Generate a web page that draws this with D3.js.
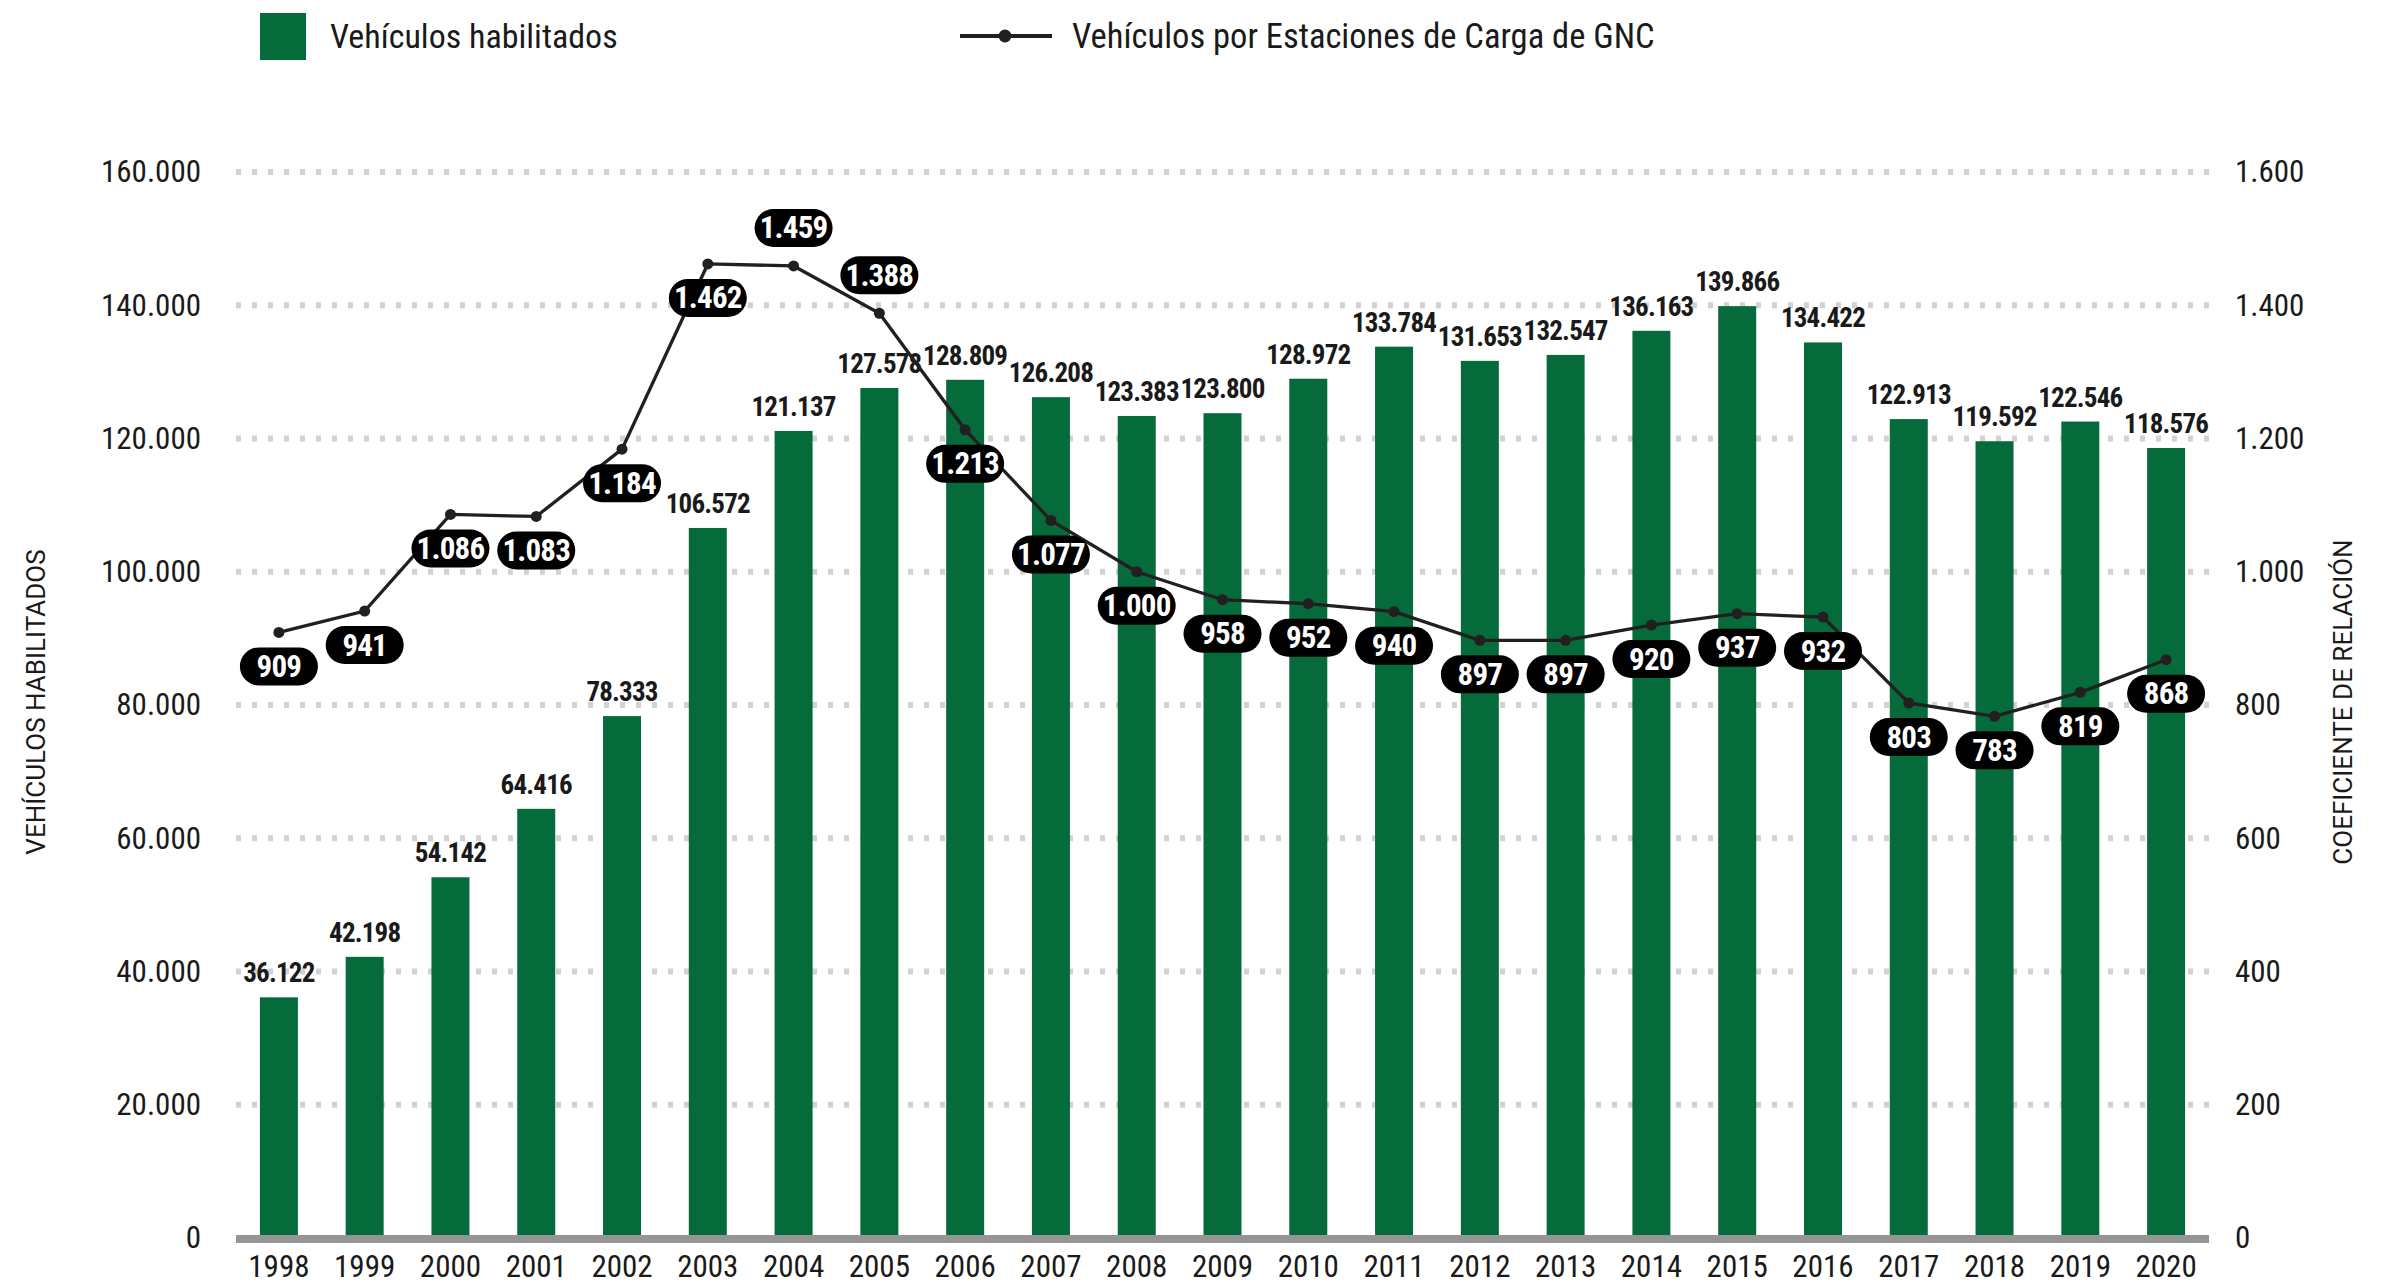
<!DOCTYPE html>
<html>
<head>
<meta charset="utf-8">
<script src="https://cdn.jsdelivr.net/npm/d3@7"></script>
<style>
  body { margin: 0; background: #fff; }
  svg { display: block; }
</style>
</head>
<body>
<div id="chart"></div>
<script>
// data
var years = ["1998", "1999", "2000", "2001", "2002", "2003", "2004", "2005", "2006", "2007", "2008", "2009",
  "2010", "2011", "2012", "2013", "2014", "2015", "2016", "2017", "2018", "2019", "2020"];
var vehiculos = [36122, 42198, 54142, 64416, 78333, 106572, 121137, 127578, 128809, 126208, 123383, 123800,
  128972, 133784, 131653, 132547, 136163, 139866, 134422, 122913, 119592, 122546, 118576];
var coeficiente = [909, 941, 1086, 1083, 1184, 1462, 1459, 1388, 1213, 1077, 1000, 958,
  952, 940, 897, 897, 920, 937, 932, 803, 783, 819, 868];
var leftTicks = [0, 20000, 40000, 60000, 80000, 100000, 120000, 140000, 160000];
var rightTicks = [0, 200, 400, 600, 800, 1000, 1200, 1400, 1600];
var legendLabels = ["Vehículos habilitados", "Vehículos por Estaciones de Carga de GNC"];
var axisTitles = ["VEHÍCULOS HABILITADOS", "COEFICIENTE DE RELACIÓN"];
var pillAbove = ["2004", "2005"];

var W = 2392, H = 1285;
var GREEN = "#066b3b", INK = "#231f20", TEXT = "#1a1a1a";
var FONT_C = "'Roboto Condensed','Liberation Sans Narrow','Arial Narrow','DejaVu Sans Condensed',sans-serif";
var FONT_R = "Roboto, 'Noto Sans', sans-serif";

var es = d3.formatLocale({ decimal: ",", thousands: ".", grouping: [3], currency: ["$", ""] });
var fmt = es.format(",d");

var svg = d3.select("#chart").append("svg")
  .attr("width", W)
  .attr("height", H)
  .style("font-family", FONT_C);

var x = d3.scaleBand()
  .domain(years)
  .range([236, 2209])
  .paddingInner(0.557)
  .paddingOuter(0.2785);

var yL = d3.scaleLinear().domain([0, 160000]).range([1238, 172]);
var yR = d3.scaleLinear().domain([0, 1600]).range([1238, 172]);

var cx = function(d, i) { return x(years[i]) + x.bandwidth() / 2; };

// gridlines
svg.append("g")
  .selectAll("line")
  .data(leftTicks.filter(function(t) { return t > 0; }))
  .enter()
  .append("line")
  .attr("x1", 236)
  .attr("x2", 2209)
  .attr("y1", function(d) { return yL(d); })
  .attr("y2", function(d) { return yL(d); })
  .attr("stroke", "#d2d2d2")
  .attr("stroke-width", 6)
  .attr("stroke-dasharray", "5,11");

// bars
svg.append("g")
  .selectAll("rect")
  .data(vehiculos)
  .enter()
  .append("rect")
  .attr("x", function(d, i) { return x(years[i]); })
  .attr("y", function(d) { return yL(d); })
  .attr("width", x.bandwidth())
  .attr("height", function(d) { return yL(0) - yL(d); })
  .attr("fill", GREEN);

// baseline
svg.append("line")
  .attr("x1", 236)
  .attr("x2", 2209)
  .attr("y1", 1239)
  .attr("y2", 1239)
  .attr("stroke", "#959595")
  .attr("stroke-width", 8);

// left axis
var axL = svg.append("g")
  .attr("transform", "translate(201,0)")
  .call(d3.axisLeft(yL).tickValues(leftTicks).tickFormat(fmt).tickSize(0).tickPadding(0));
axL.select(".domain").remove();
axL.selectAll("text")
  .attr("font-size", 31)
  .attr("font-family", FONT_C)
  .attr("fill", TEXT);

// right axis
var axR = svg.append("g")
  .attr("transform", "translate(2235,0)")
  .call(d3.axisRight(yR).tickValues(rightTicks).tickFormat(fmt).tickSize(0).tickPadding(0));
axR.select(".domain").remove();
axR.selectAll("text")
  .attr("font-size", 31)
  .attr("font-family", FONT_C)
  .attr("fill", TEXT);

// bottom axis (years)
var axB = svg.append("g")
  .attr("transform", "translate(0,1277)")
  .call(d3.axisBottom(x).tickSize(0).tickPadding(0));
axB.select(".domain").remove();
axB.selectAll("text")
  .attr("y", 0)
  .attr("dy", 0)
  .attr("font-size", 31)
  .attr("font-family", FONT_C)
  .attr("fill", TEXT);

// bar value labels
svg.append("g")
  .selectAll("text")
  .data(vehiculos)
  .enter()
  .append("text")
  .attr("x", cx)
  .attr("y", function(d) { return yL(d) - 15; })
  .attr("text-anchor", "middle")
  .attr("font-size", 27)
  .attr("font-weight", "bold")
  .attr("letter-spacing", -0.8)
  .attr("fill", TEXT)
  .text(function(d) { return fmt(d); });

// line
var line = d3.line()
  .x(cx)
  .y(function(d) { return yR(d); });

svg.append("path")
  .datum(coeficiente)
  .attr("d", line)
  .attr("fill", "none")
  .attr("stroke", INK)
  .attr("stroke-width", 3.3);

svg.append("g")
  .selectAll("circle")
  .data(coeficiente)
  .enter()
  .append("circle")
  .attr("cx", cx)
  .attr("cy", function(d) { return yR(d); })
  .attr("r", 5.5)
  .attr("fill", INK);

// pill labels for the line
var pills = svg.append("g")
  .selectAll("g")
  .data(coeficiente)
  .enter()
  .append("g")
  .attr("transform", function(d, i) {
    var off = pillAbove.indexOf(years[i]) >= 0 ? -38 : 34;
    return "translate(" + cx(d, i) + "," + (yR(d) + off) + ")";
  });

pills.append("rect")
  .attr("x", -39)
  .attr("y", -19)
  .attr("width", 78)
  .attr("height", 38)
  .attr("rx", 19)
  .attr("fill", "#000");

pills.append("text")
  .attr("text-anchor", "middle")
  .attr("dominant-baseline", "central")
  .attr("font-size", 31)
  .attr("font-weight", "bold")
  .attr("letter-spacing", -0.8)
  .attr("fill", "#fff")
  .text(function(d) { return fmt(d); });

// legend
svg.append("rect")
  .attr("x", 260)
  .attr("y", 13)
  .attr("width", 46)
  .attr("height", 47)
  .attr("fill", GREEN);

svg.append("text")
  .attr("x", 330)
  .attr("y", 36)
  .attr("dominant-baseline", "central")
  .attr("font-size", 34)
  .attr("fill", TEXT)
  .text(legendLabels[0]);

svg.append("line")
  .attr("x1", 960)
  .attr("x2", 1052)
  .attr("y1", 36)
  .attr("y2", 36)
  .attr("stroke", INK)
  .attr("stroke-width", 4);

svg.append("circle")
  .attr("cx", 1005)
  .attr("cy", 36)
  .attr("r", 6.5)
  .attr("fill", INK);

svg.append("text")
  .attr("x", 1072)
  .attr("y", 36)
  .attr("dominant-baseline", "central")
  .attr("font-size", 34.5)
  .attr("fill", TEXT)
  .text(legendLabels[1]);

// axis titles
svg.append("text")
  .attr("transform", "translate(36,702) rotate(-90)")
  .attr("text-anchor", "middle")
  .attr("dominant-baseline", "central")
  .attr("font-family", FONT_R)
  .attr("font-size", 26)
  .attr("fill", TEXT)
  .text(axisTitles[0]);

svg.append("text")
  .attr("transform", "translate(2343,702) rotate(-90)")
  .attr("text-anchor", "middle")
  .attr("dominant-baseline", "central")
  .attr("font-family", FONT_R)
  .attr("font-size", 26)
  .attr("fill", TEXT)
  .text(axisTitles[1]);
</script>
</body>
</html>
